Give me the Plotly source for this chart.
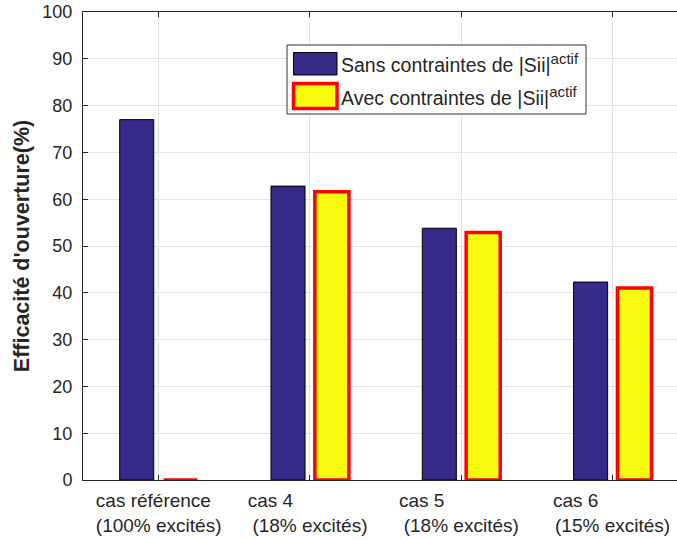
import plotly.graph_objects as go

# ---- data ----
categories = ["cas référence", "cas 4", "cas 5", "cas 6"]
line2 = ["(100% excités)", "(18% excités)", "(18% excités)", "(15% excités)"]
pad1 = [2, 15, 15, 14]          # trailing spaces after first line (layout of tick text)
sans = [77.0, 62.8, 53.8, 42.3]
avec = [0.0, 61.6, 52.9, 41.0]
series_names = ["Sans contraintes de |Sii|<sup><span style='font-size:15px'>actif</span></sup>",
                "Avec contraintes de |Sii|<sup><span style='font-size:15px'>actif</span></sup>"]
yticks = list(range(0, 101, 10))

W, H = 677, 540
L, R, T, B = 83, 0, 12, 60
PW, PH = W - L - R, H - T - B

BLUE = "#352a87"
YELLOW = "#f9fb0e"
RED = "#ff0000"
TXT = "#262626"
FONT = "Liberation Sans, Arial, sans-serif"

ticktext = [c + "\u00a0" * p + "<br>" + s for c, p, s in zip(categories, pad1, line2)]

fig = go.Figure()
fig.add_trace(go.Bar(x=categories, y=sans, name=series_names[0],
                     marker=dict(color=BLUE, line=dict(color="#000000", width=1)),
                     cliponaxis=False, showlegend=False))
fig.add_trace(go.Bar(x=categories, y=avec, name=series_names[1],
                     marker=dict(color=YELLOW, line=dict(color=RED, width=3.5)),
                     cliponaxis=False, showlegend=False))

def px(xp):
    return (xp - L) / PW

def py(yp):
    return (H - B - yp) / PH

# custom legend (box, swatches, labels)
shapes = [
    dict(type="rect", xref="paper", yref="paper", x0=px(287), x1=px(586), y0=py(45), y1=py(114),
         fillcolor="white", line=dict(color="#333333", width=1), layer="above"),
    dict(type="rect", xref="paper", yref="paper", x0=px(293.5), x1=px(337), y0=py(52.5), y1=py(75),
         fillcolor=BLUE, line=dict(color="#000000", width=1), layer="above"),
    dict(type="rect", xref="paper", yref="paper", x0=px(293.5), x1=px(337), y0=py(83.5), y1=py(108.5),
         fillcolor=YELLOW, line=dict(color=RED, width=3.5), layer="above"),
]
annotations = [
    dict(xref="paper", yref="paper", x=px(339), y=py(63), xanchor="left", yanchor="middle",
         text=series_names[0], showarrow=False, font=dict(family=FONT, size=19.5, color=TXT)),
    dict(xref="paper", yref="paper", x=px(339), y=py(96), xanchor="left", yanchor="middle",
         text=series_names[1], showarrow=False, font=dict(family=FONT, size=19.5, color=TXT)),
]

fig.update_layout(
    width=W, height=H,
    margin=dict(l=L, r=R, t=T, b=B, autoexpand=False),
    paper_bgcolor="white", plot_bgcolor="white",
    barmode="group", bargap=0.42, bargroupgap=0.224,
    font=dict(family=FONT, size=18, color=TXT),
    shapes=shapes, annotations=annotations,
    showlegend=False,
)
fig.update_xaxes(
    tickmode="array", tickvals=categories, ticktext=ticktext,
    range=[-0.5, -0.5 + PW / 151.3],
    showgrid=True, gridcolor="#e3e3e3", gridwidth=1,
    showline=True, linecolor=TXT, linewidth=1, mirror="allticks",
    ticks="inside", ticklen=5, tickcolor=TXT,
    tickfont=dict(family=FONT, size=19, color=TXT),
    ticklabelstandoff=3,
    automargin=False,
)
fig.update_yaxes(
    range=[0, 100], tickmode="array", tickvals=yticks,
    showgrid=True, gridcolor="#e3e3e3", gridwidth=1, zeroline=False,
    showline=True, linecolor=TXT, linewidth=1,
    ticks="inside", ticklen=5, tickcolor=TXT,
    tickfont=dict(family=FONT, size=18, color=TXT),
    ticklabelstandoff=6,
    title=dict(text="<b>Efficacité d'ouverture(%)</b>", standoff=6,
               font=dict(family=FONT, size=21.5, color=TXT)),
    automargin=False,
)

fig.write_html("out.html", config={"displayModeBar": False},
               post_script="document.body.style.margin='0px';document.body.style.padding='0px';")
